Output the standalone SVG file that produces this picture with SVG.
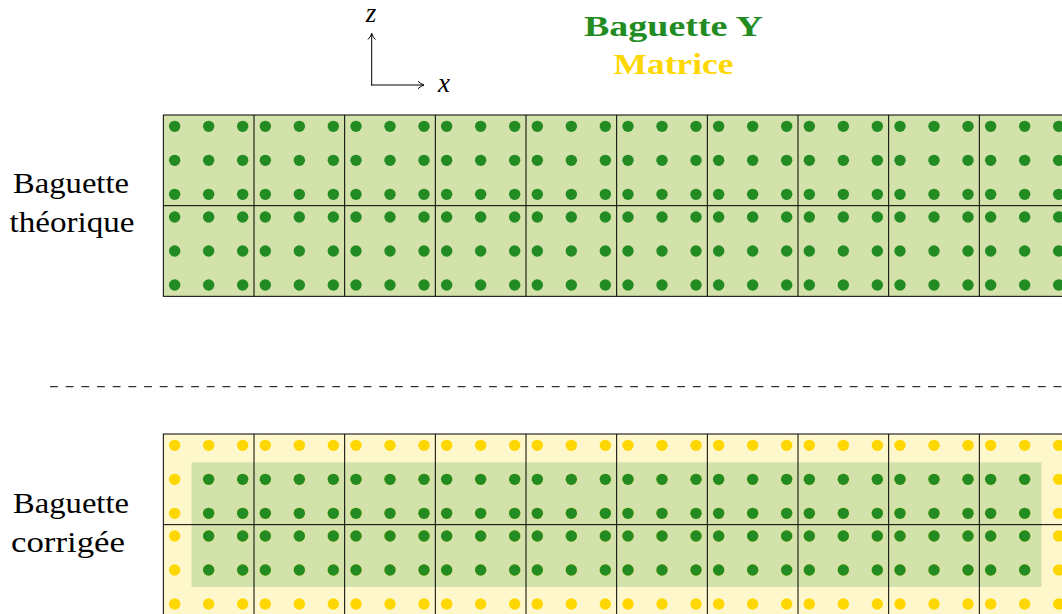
<svg xmlns="http://www.w3.org/2000/svg" width="1062" height="614" viewBox="0 0 1062 614">
<style>
.grid{fill:none;stroke:#000;stroke-width:1}
.arrow{fill:none;stroke:#000;stroke-width:1}
.g{fill:#228B22}
.y{fill:#FFD700}
</style>
<defs>
<g id="nine">
<circle cx="11.33" cy="11.33" r="5.7"/><circle cx="45.33" cy="11.33" r="5.7"/><circle cx="79.33" cy="11.33" r="5.7"/>
<circle cx="11.33" cy="45.33" r="5.7"/><circle cx="45.33" cy="45.33" r="5.7"/><circle cx="79.33" cy="45.33" r="5.7"/>
<circle cx="11.33" cy="79.33" r="5.7"/><circle cx="45.33" cy="79.33" r="5.7"/><circle cx="79.33" cy="79.33" r="5.7"/>
</g>
<g id="row">
<use href="#nine" x="163.33"/><use href="#nine" x="254"/><use href="#nine" x="344.67"/><use href="#nine" x="435.33"/><use href="#nine" x="526"/>
<use href="#nine" x="616.67"/><use href="#nine" x="707.33"/><use href="#nine" x="798"/><use href="#nine" x="888.67"/><use href="#nine" x="979.33"/>
</g>
<clipPath id="inner"><rect x="191.6" y="462.3" width="850" height="124.7"/></clipPath>
</defs>

<g id="title" font-family="Liberation Serif, DejaVu Serif, serif" font-size="30" font-weight="bold" text-anchor="middle">
<text x="673.5" y="36" fill="#228B22" textLength="179" lengthAdjust="spacingAndGlyphs">Baguette Y</text>
<text x="673.5" y="74" fill="#FFD700" textLength="120" lengthAdjust="spacingAndGlyphs">Matrice</text>
</g>

<g id="axes" font-family="Liberation Serif, DejaVu Serif, serif" font-size="27" font-style="italic" text-anchor="middle" fill="#000">
<text x="371" y="22">z</text>
<text x="444" y="92">x</text>
</g>

<g id="baguette-theorique">
<rect x="163.33" y="115" width="920" height="181.33" fill="#d3e1aa"/>
<g class="g"><use href="#row" y="115"/><use href="#row" y="205.67"/></g>
<rect class="grid" x="163.33" y="115" width="920" height="181.33"/>
<path class="grid" d="M163.33 205.67H1062 M254 115V296.33 M344.67 115V296.33 M435.33 115V296.33 M526 115V296.33 M616.67 115V296.33 M707.33 115V296.33 M798 115V296.33 M888.67 115V296.33 M979.33 115V296.33"/>
<g font-family="Liberation Serif, DejaVu Serif, serif" font-size="29" text-anchor="middle" fill="#000">
<text x="71" y="193.3" textLength="116" lengthAdjust="spacingAndGlyphs">Baguette</text>
<text x="72" y="232" textLength="125" lengthAdjust="spacingAndGlyphs">théorique</text>
</g>
</g>

<g id="separator">
<line x1="50" y1="386.7" x2="1062" y2="386.7" stroke="#000" stroke-width="1" stroke-dasharray="7.84 7.84"/>
</g>

<g id="baguette-corrigee">
<rect x="163.33" y="434" width="920" height="181.33" fill="#fff7cc"/>
<rect x="191.6" y="462.3" width="850" height="124.7" fill="#d3e1aa"/>
<g class="y"><use href="#row" y="434"/><use href="#row" y="524.67"/></g>
<g class="g" clip-path="url(#inner)"><use href="#row" y="434"/><use href="#row" y="524.67"/></g>
<rect class="grid" x="163.33" y="434" width="920" height="181.33"/>
<path class="grid" d="M163.33 524.67H1062 M254 434V615.33 M344.67 434V615.33 M435.33 434V615.33 M526 434V615.33 M616.67 434V615.33 M707.33 434V615.33 M798 434V615.33 M888.67 434V615.33 M979.33 434V615.33"/>
<g font-family="Liberation Serif, DejaVu Serif, serif" font-size="29" text-anchor="middle" fill="#000">
<text x="71" y="513.3" textLength="116" lengthAdjust="spacingAndGlyphs">Baguette</text>
<text x="68" y="551.5" textLength="114" lengthAdjust="spacingAndGlyphs">corrigée</text>
</g>
</g>

<g id="connectors">
<path class="arrow" d="M371.7 85.5V33.5"/>
<path class="arrow" d="M368 39.5Q370.5 37 371.7 33.5Q372.9 37 375.4 39.5"/>
<path class="arrow" d="M371.2 85H424"/>
<path class="arrow" d="M418 81.3Q420.5 83.8 424 85Q420.5 86.2 418 88.7"/>
</g>
</svg>
